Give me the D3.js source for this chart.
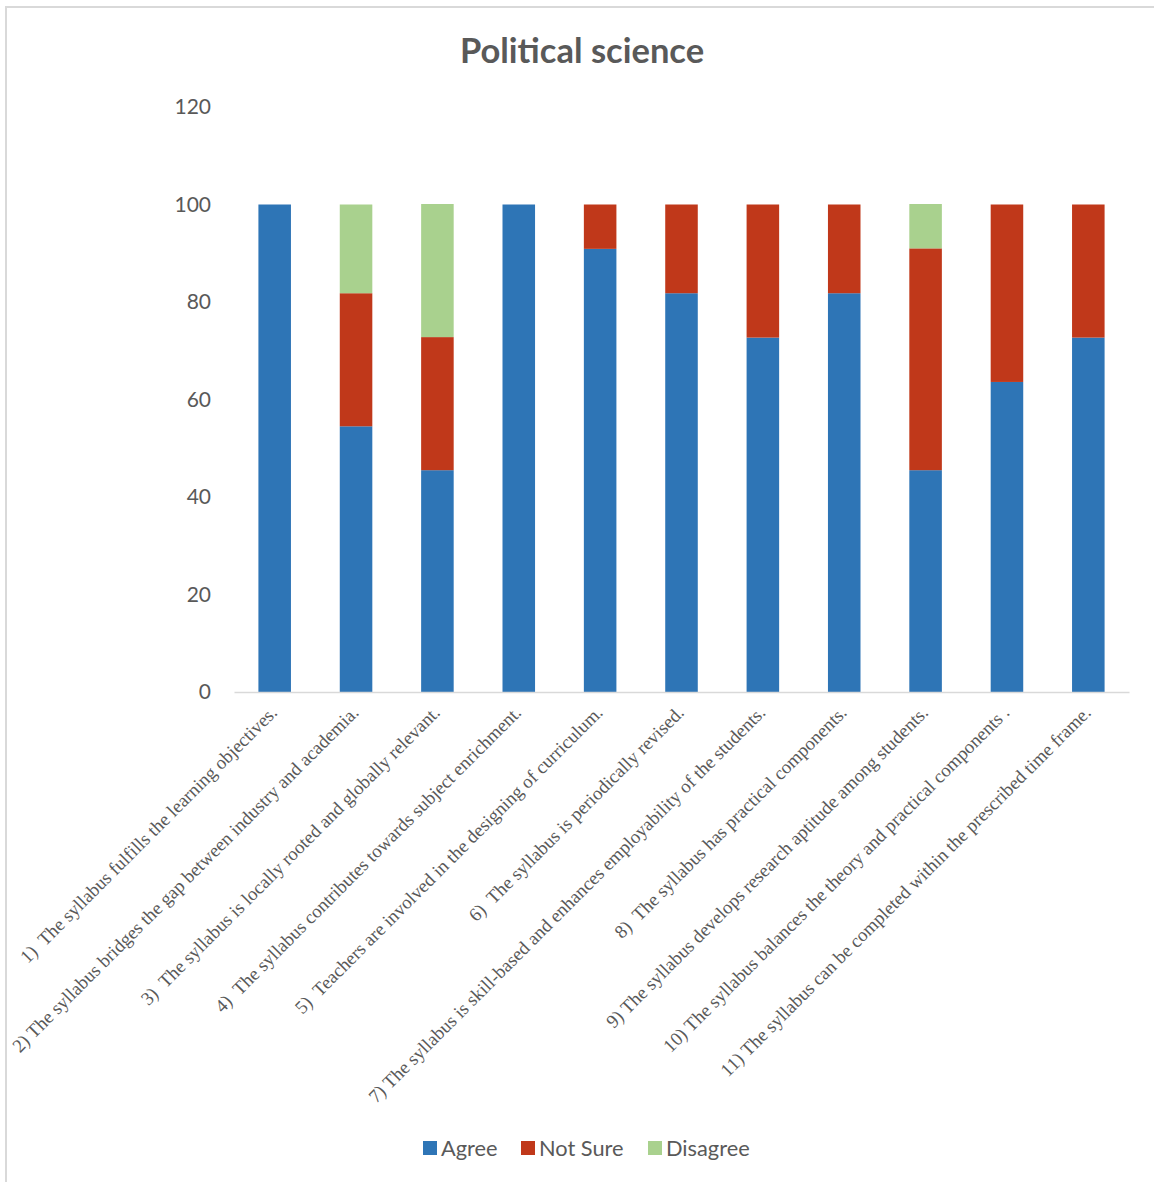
<!DOCTYPE html>
<html>
<head>
<meta charset="utf-8">
<script src="https://cdn.jsdelivr.net/npm/d3@7"></script>
<style>
  html, body { margin: 0; padding: 0; background: #fff; }
  svg { display: block; }
  .tick text { white-space: pre; }
</style>
</head>
<body>
<svg id="chart" width="1154" height="1182"></svg>
<script>
const categories = [
  "1)  The syllabus fulfills the learning objectives.",
  "2) The syllabus bridges the gap between industry and academia.",
  "3)  The syllabus is locally rooted and globally relevant.",
  "4)  The syllabus contributes towards subject enrichment.",
  "5)  Teachers are involved in the designing of curriculum.",
  "6)  The syllabus is periodically revised.",
  "7) The syllabus is skill-based and enhances employability of the students.",
  "8)  The syllabus has practical components.",
  "9) The syllabus develops research aptitude among students.",
  "10) The syllabus balances the theory and practical components .",
  "11) The syllabus can be completed within the prescribed time frame."
];
const seriesNames = ["Agree", "Not Sure", "Disagree"];
const agree    = [100, 54.5, 45.5, 100, 90.9, 81.8, 72.7, 81.8, 45.5, 63.6, 72.7];
const notSure  = [0, 27.3, 27.3, 0, 9.1, 18.2, 27.3, 18.2, 45.5, 36.4, 27.3];
const disagree = [0, 18.2, 27.3, 0, 0, 0, 0, 0, 9.1, 0, 0];
const yTicks = [0, 20, 40, 60, 80, 100, 120];
const colors = ["#2e75b6", "#c0381a", "#a9d18e"];
const title = "Political science";

const svg = d3.select("#chart");

// chart border (left and top visible)
svg.append("line").attr("x1", 6).attr("x2", 6).attr("y1", 6).attr("y2", 1182)
  .attr("stroke", "#d9d9d9").attr("stroke-width", 2);
svg.append("line").attr("x1", 5).attr("x2", 1154).attr("y1", 7).attr("y2", 7)
  .attr("stroke", "#d9d9d9").attr("stroke-width", 2);

const x = d3.scaleBand().domain(categories).range([234, 1129])
  .paddingInner(0.6).paddingOuter(0.3);
const y = d3.scaleLinear().domain([0, 120]).range([692, 107]);

const rows = categories.map((c, i) => ({cat: c, "Agree": agree[i], "Not Sure": notSure[i], "Disagree": disagree[i]}));
const stacked = d3.stack().keys(seriesNames)(rows);

// title
svg.append("text").attr("x", 582).attr("y", 63).attr("text-anchor", "middle")
  .attr("font-family", "Lato, 'Open Sans', sans-serif").attr("font-weight", "bold")
  .attr("font-size", 34.5).attr("fill", "#595959").text(title);

// y axis labels
const yAxis = d3.axisLeft(y).tickValues(yTicks).tickSize(0).tickPadding(23);
const gy = svg.append("g").attr("transform", "translate(234,0)").call(yAxis);
gy.select(".domain").remove();
gy.selectAll("text").attr("font-family", "Lato, 'Open Sans', sans-serif")
  .attr("font-size", 21).attr("fill", "#595959");

// bars
svg.append("g").selectAll("g").data(stacked).join("g")
  .attr("fill", (d, i) => colors[i])
  .selectAll("rect").data(d => d).join("rect")
  .attr("x", d => x(d.data.cat))
  .attr("width", x.bandwidth())
  .attr("y", d => y(d[1]))
  .attr("height", d => y(d[0]) - y(d[1]));

// x axis
const xAxis = d3.axisBottom(x).tickSize(0).tickPadding(0);
const gx = svg.append("g").attr("transform", "translate(0,692)").call(xAxis);
gx.select(".domain").attr("stroke", "#d9d9d9").attr("stroke-width", 1.5);
gx.selectAll(".tick text")
  .attr("font-family", "'Liberation Serif', 'Times New Roman', serif")
  .attr("font-size", 18.8).attr("fill", "#595959")
  .attr("text-anchor", "end")
  .attr("dy", "0.35em")
  .attr("transform", "translate(-1,17) rotate(-45)");

// legend
const legendItems = [{name: "Agree", x: 423}, {name: "Not Sure", x: 521}, {name: "Disagree", x: 648}];
const lg = svg.append("g").selectAll("g").data(legendItems).join("g")
  .attr("transform", d => `translate(${d.x},1141)`);
lg.append("rect").attr("width", 14).attr("height", 14)
  .attr("fill", (d, i) => colors[i]);
lg.append("text").attr("x", 18).attr("y", 7).attr("dy", "0.35em")
  .attr("font-family", "Lato, 'Open Sans', sans-serif").attr("font-size", 21.8)
  .attr("fill", "#595959").text(d => d.name);
</script>
</body>
</html>
